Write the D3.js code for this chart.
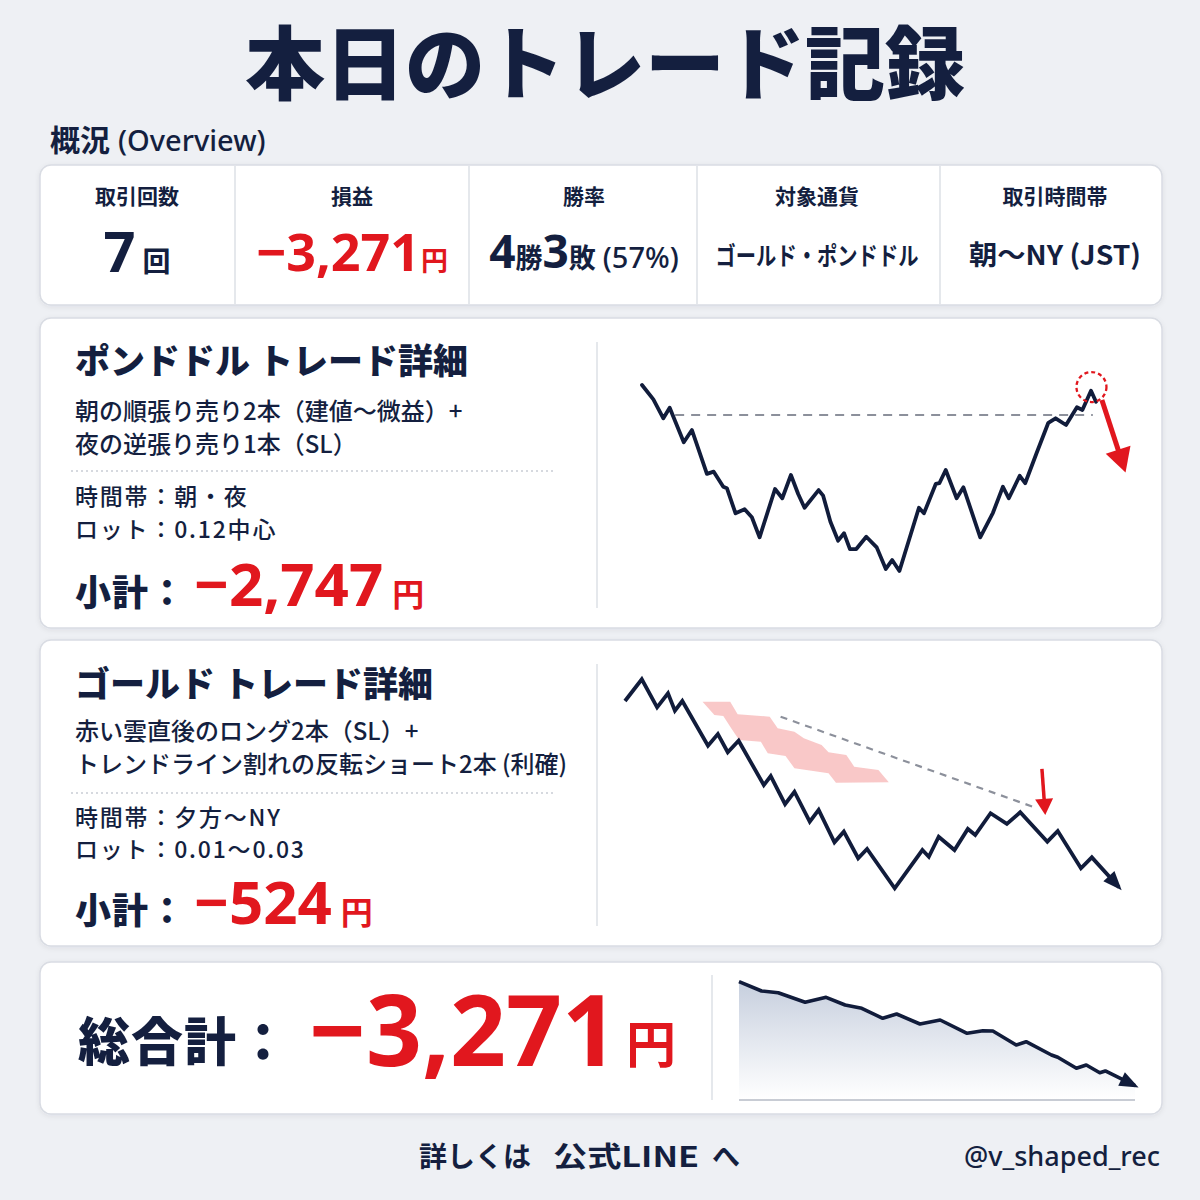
<!DOCTYPE html>
<html><head><meta charset="utf-8">
<script src="https://cdn.jsdelivr.net/npm/d3@7"></script>
<style>body{margin:0;background:#eef0f4;} svg{display:block;}</style>
</head><body>
<svg id="c" width="1200" height="1200"></svg>
<script>
// ---------------- DATA ----------------
const pageTitle = "本日のトレード記録";
const overviewTitle = "概況";
const overviewTitleEn = "(Overview)";
const overviewLabels = ["取引回数", "損益", "勝率", "対象通貨", "取引時間帯"];
const tradeCount = 7;
const totalPnl = -3271;
const wins = 4, losses = 3, winRate = 57;
const pairsText = "ゴールド・ポンドドル";
const sessionText = "朝〜NY (JST)";

const gbpTitle = "ポンドドル トレード詳細";
const gbpLines = ["朝の順張り売り2本（建値〜微益）+", "夜の逆張り売り1本（SL）"];
const gbpInfo = ["時間帯：朝・夜", "ロット：0.12中心"];
const gbpPnl = -2747;

const goldTitle = "ゴールド トレード詳細";
const goldLines = ["赤い雲直後のロング2本（SL）+", "トレンドライン割れの反転ショート2本 (利確)"];
const goldInfo = ["時間帯：夕方〜NY", "ロット：0.01〜0.03"];
const goldPnl = -524;

// GBPUSD price path (time 0-100, relative price 0-100)
const gbpT = [0,2.5,4.7,6.1,9.2,11.0,14.3,15.8,17.9,18.7,20.6,22.6,24.2,25.9,29.3,30.9,32.8,34.4,35.8,38.9,39.9,41.5,43.2,44.5,45.8,47.2,49.4,51.7,53.7,55.1,56.7,61.0,62.1,64.7,65.5,66.9,69.3,70.8,74.5,77.3,79.5,80.8,83.2,84.4,86.9,89.5,91.1,93.4,95.8,97.0,98.9,100];
const gbpV = [100,92.3,82.1,87.8,69.2,75.8,52.2,53.4,45.3,44.5,31.0,33.2,28.9,18.1,44.1,39.1,51.6,41.4,34.0,43.5,40.5,26.5,16.3,20.3,11.8,11.8,18.4,12.7,1.1,5.9,0,34.0,31.0,46.8,47.2,54.3,39.1,45.0,18.1,31.3,45.3,39.1,51.2,47.2,63.3,79.7,82.1,78.5,88.0,86.6,96.9,91.0];
const gbpLevel = 83.9, gbpLevelT = [7.3, 99.3];
const gbpEntry = [99.0, 98.9];
const gbpArrowT = [101.3, 106.1], gbpArrowV = [91.9, 56.0];

// Gold price path
const goldT = [0,3.4,6.5,8.7,10.1,11.6,16.8,18.8,20.8,23.0,28.1,29.5,32.4,34.3,37.4,39.2,42.4,44.3,47.2,49.0,54.6,60.2,61.5,63.5,66.7,69.4,70.9,74.0,77.3,80.0,85.5,87.6,92.3,94.5,100];
const goldV = [89.6,100,86.6,93.3,85.0,89.6,68.2,73.8,65.1,70.6,49.4,53.7,40.3,46.2,31.9,37.5,22.0,27.1,14.4,18.8,0,18.3,15.1,24.7,18.3,28.4,25.5,35.9,30.8,36.4,22.3,27.4,9.6,14.8,0.5];
const cloudUpperT = [15.7,21.3,22.8,29.3,30.9,34.3,36.2,39.8,41.2,44.8,46.4,51.3,53.4];
const cloudUpperV = [89.3,89.3,83.3,82.1,76.6,74.9,71.8,68.6,65.1,63.8,58.2,56.6,50.7];
const cloudLowerT = [15.7,18.1,19.9,21.5,23.1,27.5,28.9,32.5,34.3,41.2,42.7,53.4];
const cloudLowerV = [89.3,82.9,82.4,76.6,71.0,70.1,64.6,63.3,57.4,55.0,50.5,50.7];
const goldTrendT = [31.5, 82.8], goldTrendV = [82.1, 38.8];
const goldArrowT = [84.4, 85.0], goldArrowV = [57.1, 37.5];

// Cumulative P&L (yen)
const totalT = [0,5.7,9.9,16.7,22.0,26.8,31.0,36.3,39.8,45.7,50.8,57.6,61.6,64.1,70.0,72.5,78.9,80.5,85.2,87.7,91.1,92.5,100];
const totalV = [0,-292,-346,-648,-491,-733,-837,-1151,-1016,-1330,-1205,-1623,-1541,-1550,-1991,-1887,-2305,-2378,-2724,-2620,-2862,-2808,-3271];
const totalFloor = -3721;

const footerText = ["詳しくは", "公式LINE", "へ"];
const handle = "@v_shaped_rec";

// ---------------- STYLE ----------------
const NAVY = "#141f3f", RED = "#e1171e", LINE = "#111c3b";
const JP = "'Noto Sans CJK JP', 'Noto Sans', sans-serif";
const NUM = "'Noto Sans', 'Noto Sans CJK JP', sans-serif";
const fmt = v => (v < 0 ? "\u2212" : "") + d3.format(",")(Math.abs(v));

const svg = d3.select("#c");
const defs = svg.append("defs");
const sh = defs.append("filter").attr("id", "sh").attr("x", "-5%").attr("y", "-10%").attr("width", "110%").attr("height", "130%");
sh.append("feDropShadow").attr("dx", 0).attr("dy", 1.5).attr("stdDeviation", 2.5).attr("flood-color", "#1b2440").attr("flood-opacity", 0.07);

const grad = defs.append("linearGradient").attr("id", "ag").attr("x1", 0).attr("y1", 0).attr("x2", 0).attr("y2", 1);
grad.append("stop").attr("offset", "0%").attr("stop-color", "#c3ccdc").attr("stop-opacity", 0.95);
grad.append("stop").attr("offset", "100%").attr("stop-color", "#ffffff").attr("stop-opacity", 0.9);

function marker(id, color, l, w, extra) {
  defs.append("marker").attr("id", id).attr("markerUnits", "userSpaceOnUse")
    .attr("markerWidth", l).attr("markerHeight", w).attr("viewBox", `0 0 ${l} ${w}`)
    .attr("refX", l - extra).attr("refY", w / 2).attr("orient", "auto").style("overflow", "visible")
    .append("path").attr("d", `M0,0L${l},${w / 2}L0,${w}Z`).attr("fill", color);
}
marker("mRedBig", RED, 24, 26, 6);
marker("mRedSm", RED, 16, 18, 5);
marker("mNavy", LINE, 19, 15, 4);

svg.append("rect").attr("width", 1200).attr("height", 1200).attr("fill", "#eef0f4");

function card(x, y, w, h) {
  svg.append("rect").attr("x", x).attr("y", y).attr("width", w).attr("height", h)
    .attr("rx", 11).attr("fill", "#fff").attr("stroke", "#d9dce3").attr("stroke-width", 1.5)
    .attr("filter", "url(#sh)");
}
function vline(x, y1, y2) {
  svg.append("line").attr("x1", x).attr("x2", x).attr("y1", y1).attr("y2", y2)
    .attr("stroke", "#dde0e6").attr("stroke-width", 1.5);
}

// ---------------- TITLE ----------------
svg.append("text").attr("x", 605).attr("y", 93).attr("text-anchor", "middle")
  .attr("font-family", JP).attr("font-weight", 900).attr("font-size", 80).attr("fill", NAVY)
  .text(pageTitle);

const ot = svg.append("text").attr("x", 50).attr("y", 151).attr("fill", NAVY);
ot.append("tspan").attr("font-family", JP).attr("font-weight", 700).attr("font-size", 30).text(overviewTitle);
ot.append("tspan").attr("font-family", NUM).attr("font-weight", 500).attr("font-size", 29).attr("dx", 8).text(overviewTitleEn);

// ---------------- OVERVIEW CARD ----------------
card(40, 165, 1122, 140);
const colEdges = [40, 235, 469, 697, 940, 1162];
const colCenters = [137, 352, 584, 817, 1055];
colEdges.slice(1, -1).forEach(x => vline(x, 166, 304));
overviewLabels.forEach((l, i) => {
  svg.append("text").attr("x", colCenters[i]).attr("y", 204).attr("text-anchor", "middle")
    .attr("font-family", JP).attr("font-weight", 700).attr("font-size", 21).attr("fill", NAVY).text(l);
});
const vy = 271;
let t = svg.append("text").attr("x", colCenters[0]).attr("y", vy + 1).attr("text-anchor", "middle").attr("fill", NAVY);
t.append("tspan").attr("font-family", NUM).attr("font-weight", 700).attr("font-size", 56).text(tradeCount);
t.append("tspan").attr("font-family", JP).attr("font-weight", 700).attr("font-size", 28).attr("dx", 7).text("回");
t = svg.append("text").attr("x", colCenters[1]).attr("y", vy).attr("text-anchor", "middle").attr("fill", RED);
t.append("tspan").attr("font-family", NUM).attr("font-weight", 700).attr("font-size", 52).text(fmt(totalPnl));
t.append("tspan").attr("font-family", JP).attr("font-weight", 700).attr("font-size", 27).attr("dx", 1).text("円");
t = svg.append("text").attr("x", colCenters[2]).attr("y", vy - 3).attr("text-anchor", "middle").attr("fill", NAVY);
t.append("tspan").attr("font-family", NUM).attr("font-weight", 700).attr("font-size", 46).text(wins);
t.append("tspan").attr("font-family", JP).attr("font-weight", 700).attr("font-size", 27).text("勝");
t.append("tspan").attr("font-family", NUM).attr("font-weight", 700).attr("font-size", 46).text(losses);
t.append("tspan").attr("font-family", JP).attr("font-weight", 700).attr("font-size", 27).text("敗");
t.append("tspan").attr("font-family", NUM).attr("font-weight", 500).attr("font-size", 29).attr("dx", 7).text(`(${winRate}%)`);
svg.append("text").attr("x", colCenters[3]).attr("y", vy - 6).attr("text-anchor", "middle")
  .attr("font-family", JP).attr("font-weight", 700).attr("font-size", 25).attr("fill", NAVY)
  .attr("textLength", 203).attr("lengthAdjust", "spacingAndGlyphs").text(pairsText);
svg.append("text").attr("x", colCenters[4]).attr("y", vy - 6).attr("text-anchor", "middle")
  .attr("font-family", JP).attr("font-weight", 700).attr("font-size", 27).attr("fill", NAVY)
  .attr("textLength", 172).attr("lengthAdjust", "spacingAndGlyphs").text(sessionText);

// ---------------- DETAIL CARDS ----------------
function detail(y0, h, title, lines, info, pnl, ys) {
  card(40, y0, 1122, h);
  vline(597, y0 + 24, y0 + h - 20);
  svg.append("text").attr("x", 75).attr("y", ys.title).attr("font-family", JP).attr("font-weight", 900)
    .attr("font-size", 35).attr("fill", NAVY).text(title);
  lines.forEach((l, i) => svg.append("text").attr("x", 75).attr("y", ys.lines[i]).attr("font-family", JP)
    .attr("font-weight", 500).attr("font-size", 24).attr("fill", NAVY).text(l));
  svg.append("line").attr("x1", 71).attr("x2", 556).attr("y1", ys.sep).attr("y2", ys.sep)
    .attr("stroke", "#c9cdd5").attr("stroke-width", 1.3).attr("stroke-dasharray", "2,3");
  info.forEach((l, i) => svg.append("text").attr("x", 75).attr("y", ys.info[i]).attr("font-family", JP)
    .attr("font-weight", 500).attr("font-size", 23).attr("letter-spacing", 1.8).attr("fill", NAVY).text(l));
  const s = svg.append("text").attr("x", 75).attr("y", ys.sub);
  s.append("tspan").attr("font-family", JP).attr("font-weight", 900).attr("font-size", 36).attr("fill", NAVY).attr("letter-spacing", 1).text("小計：");
  s.append("tspan").attr("font-family", NUM).attr("font-weight", 700).attr("font-size", 60).attr("fill", RED).attr("dx", 8).text(fmt(pnl));
  s.append("tspan").attr("font-family", JP).attr("font-weight", 700).attr("font-size", 32).attr("fill", RED).attr("dx", 9).text("円");
}
detail(318, 310, gbpTitle, gbpLines, gbpInfo, gbpPnl,
  { title: 374, lines: [420, 453], sep: 471, info: [505, 538], sub: 606 });
detail(640, 306, goldTitle, goldLines, goldInfo, goldPnl,
  { title: 697, lines: [740, 773], sep: 793, info: [826, 858], sub: 924 });

// ---------------- GBP CHART ----------------
const gx = d3.scaleLinear().domain([0, 100]).range([642, 1096]);
const gy = d3.scaleLinear().domain([0, 100]).range([571, 385]);
svg.append("line").attr("x1", gx(gbpLevelT[0])).attr("x2", gx(gbpLevelT[1]))
  .attr("y1", gy(gbpLevel)).attr("y2", gy(gbpLevel))
  .attr("stroke", "#8c909b").attr("stroke-width", 2).attr("stroke-dasharray", "9,7");
svg.append("path").datum(d3.zip(gbpT, gbpV))
  .attr("d", d3.line().x(d => gx(d[0])).y(d => gy(d[1])))
  .attr("fill", "none").attr("stroke", LINE).attr("stroke-width", 3.8).attr("stroke-linejoin", "round").attr("stroke-linecap", "round");
svg.append("circle").attr("cx", gx(gbpEntry[0])).attr("cy", gy(gbpEntry[1])).attr("r", 15)
  .attr("fill", "none").attr("stroke", RED).attr("stroke-width", 2.3).attr("stroke-dasharray", "4,3");
svg.append("path").datum(d3.zip(gbpArrowT, gbpArrowV))
  .attr("d", d3.line().x(d => gx(d[0])).y(d => gy(d[1])))
  .attr("stroke", RED).attr("stroke-width", 5).attr("fill", "none").attr("marker-end", "url(#mRedBig)");

// ---------------- GOLD CHART ----------------
const ux = d3.scaleLinear().domain([0, 100]).range([625, 1119]);
const uy = d3.scaleLinear().domain([0, 100]).range([888.3, 679.3]);
const cloudPts = d3.zip(cloudUpperT, cloudUpperV).concat(d3.zip(cloudLowerT, cloudLowerV).reverse());
const cloudLine = d3.line().x(d => ux(d[0])).y(d => uy(d[1]));
svg.append("path").datum(cloudPts)
  .attr("d", d => cloudLine(d) + "Z")
  .attr("fill", "#f6b3b3").attr("fill-opacity", 0.72);
svg.append("path").datum(d3.zip(goldTrendT, goldTrendV))
  .attr("d", d3.line().x(d => ux(d[0])).y(d => uy(d[1])))
  .attr("stroke", "#8c909b").attr("stroke-width", 2.2).attr("stroke-dasharray", "7,6").attr("fill", "none");
svg.append("path").datum(d3.zip(goldT, goldV))
  .attr("d", d3.line().x(d => ux(d[0])).y(d => uy(d[1])))
  .attr("fill", "none").attr("stroke", LINE).attr("stroke-width", 3.8).attr("stroke-linejoin", "miter").attr("stroke-linecap", "butt")
  .attr("marker-end", "url(#mNavy)");
svg.append("path").datum(d3.zip(goldArrowT, goldArrowV))
  .attr("d", d3.line().x(d => ux(d[0])).y(d => uy(d[1])))
  .attr("stroke", RED).attr("stroke-width", 3.5).attr("fill", "none").attr("marker-end", "url(#mRedSm)");

// ---------------- TOTAL CARD ----------------
card(40, 962, 1122, 152);
vline(712, 975, 1100);
const tt = svg.append("text").attr("x", 78).attr("y", 1061);
tt.append("tspan").attr("font-family", JP).attr("font-weight", 900).attr("font-size", 52).attr("letter-spacing", 1).attr("fill", NAVY).text("総合計：");
tt.append("tspan").attr("font-family", NUM).attr("font-weight", 700).attr("font-size", 98).attr("fill", RED).attr("dx", 19).attr("dy", 5).text(fmt(totalPnl));
tt.append("tspan").attr("font-family", JP).attr("font-weight", 700).attr("font-size", 50).attr("fill", RED).attr("dx", 8).attr("dy", -3).text("円");

const tx = d3.scaleLinear().domain([0, 100]).range([739, 1135]);
const ty = d3.scaleLinear().domain([totalFloor, 0]).range([1100, 981.7]);
const totalPts = d3.zip(totalT, totalV);
svg.append("path").datum(totalPts)
  .attr("d", d3.area().x(d => tx(d[0])).y0(ty(totalFloor)).y1(d => ty(d[1])))
  .attr("fill", "url(#ag)");
svg.append("line").attr("x1", tx(0)).attr("x2", tx(100)).attr("y1", ty(totalFloor)).attr("y2", ty(totalFloor))
  .attr("stroke", "#c8ccd4").attr("stroke-width", 2);
svg.append("path").datum(totalPts)
  .attr("d", d3.line().x(d => tx(d[0])).y(d => ty(d[1])))
  .attr("fill", "none").attr("stroke", LINE).attr("stroke-width", 3.6).attr("stroke-linejoin", "round")
  .attr("marker-end", "url(#mNavy)");

// ---------------- FOOTER ----------------
const fstyle = s => s.attr("y", 1167).attr("font-family", JP).attr("font-weight", 700).attr("font-size", 28).attr("fill", NAVY);
fstyle(svg.append("text").attr("x", 419)).text(footerText[0]);
fstyle(svg.append("text").attr("x", 553)).attr("textLength", 146).attr("lengthAdjust", "spacingAndGlyphs").text(footerText[1]);
fstyle(svg.append("text").attr("x", 712)).text(footerText[2]);
svg.append("text").attr("x", 1160).attr("y", 1166).attr("text-anchor", "end")
  .attr("font-family", NUM).attr("font-weight", 500).attr("font-size", 27).attr("fill", NAVY).text(handle);
</script>
</body></html>
